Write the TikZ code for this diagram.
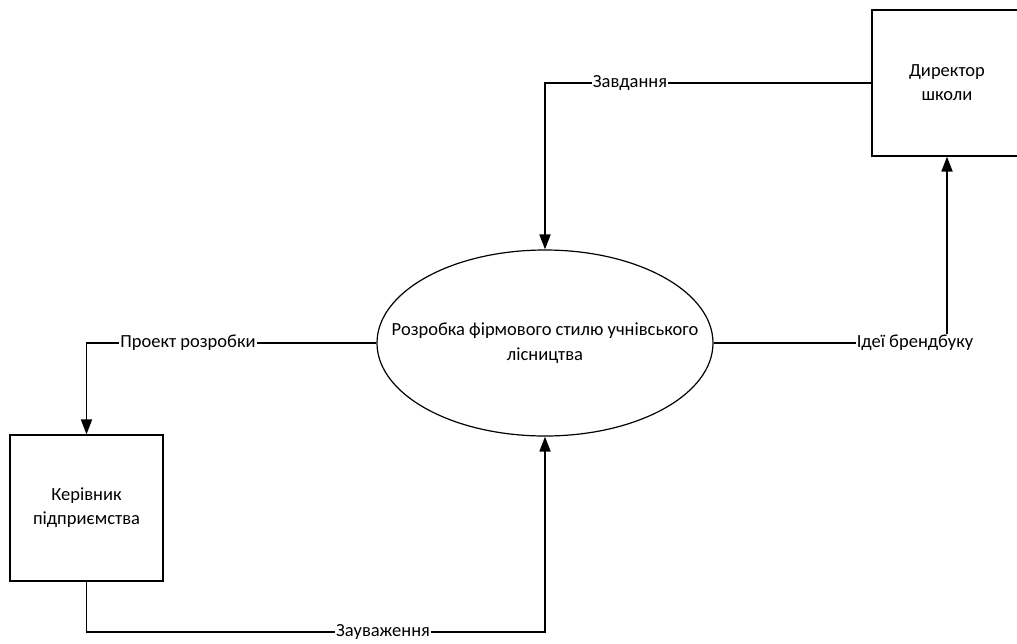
\documentclass[tikz,border=0pt]{standalone}
\usepackage{fontspec}
\setmainfont{Carlito}
\usetikzlibrary{arrows.meta,shapes.geometric}
\begin{document}
\begin{tikzpicture}[x=1pt,y=-1pt,
  box/.style={draw,line width=1.2pt,rectangle,inner sep=0pt,align=center,font=\fontsize{18.5}{24}\selectfont},
  proc/.style={draw,line width=1.2pt,ellipse,inner xsep=-45pt,inner ysep=0pt,align=center,font=\fontsize{18.5}{25}\selectfont},
  flow/.style={line width=1.8pt,-{Triangle[length=15pt,width=11pt]}},
  lbl/.style={fill=white,inner sep=1pt,font=\fontsize{18.5}{20}\selectfont}]
\useasboundingbox (0,0) rectangle (1017,643);
\fill[white] (0,0) rectangle (1017,643);
\node[box,minimum width=150pt,minimum height=146pt] (dir) at (947,83) {Директор\\школи};
\node[box,minimum width=153pt,minimum height=146pt] (ker) at (86.5,508) {Керівник\\підприємства};
\node[proc,minimum width=336pt,minimum height=186pt] (pr) at (545,343) {Розробка фірмового стилю учнівського\\лісництва};
\coordinate (c1) at (86.5,632);
\draw[flow] (dir.west) -- (pr.north |- dir.west) -- (pr.north);
\draw[flow] (pr.west) -- (ker.north |- pr.west) -- (ker.north);
\draw[flow] (ker.south) -- (c1) -| (pr.south);
\draw[flow] (pr.east) -| (dir.south);
\node[lbl] (l1) at (630,83) {Завдання};
\node[lbl] (l2) at (188,343) {Проект розробки};
\node[lbl] (l3) at (383,632) {Зауваження};
\node[lbl] (l4) at (915,343) {Ідеї брендбуку};
\end{tikzpicture}
\end{document}
